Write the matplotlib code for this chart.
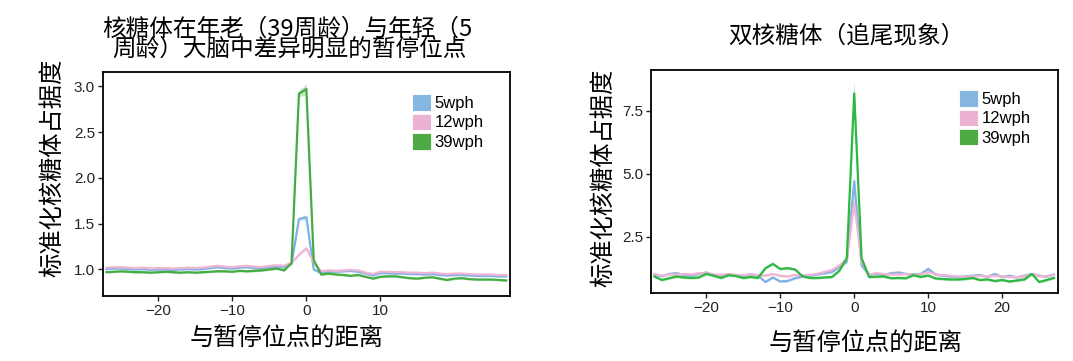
import numpy as np
import matplotlib
matplotlib.use("Agg")
import matplotlib.pyplot as plt
from matplotlib.patches import Patch

plt.rcParams['font.family'] = ['Liberation Sans', 'Noto Sans CJK SC']
cjk = ['Noto Sans CJK SC', 'DejaVu Sans']

# data to plot
pos = list(range(-27, 28))
series = ['5wph', '12wph', '39wph']

# left panel: pause sites differing between old (39 wph) and young (5 wph) brain
left_5 = [1.005, 1.01, 1.01, 1.005, 1.0, 1.005, 0.995, 1.0, 1.0, 0.995, 1.0, 1.005, 1.0, 1.005,
          1.015, 1.025, 1.015, 1.01, 1.02, 1.025, 1.015, 1.01, 1.025, 1.03, 1.025, 1.06, 1.55, 1.57,
          1.0, 0.96, 0.975, 0.975, 0.98, 0.985, 0.975, 0.955, 0.935, 0.96, 0.96, 0.955, 0.955, 0.95,
          0.95, 0.945, 0.95, 0.94, 0.935, 0.94, 0.94, 0.935, 0.93, 0.93, 0.93, 0.925, 0.925]
left_12 = [1.02, 1.025, 1.025, 1.02, 1.015, 1.02, 1.01, 1.015, 1.015, 1.01, 1.015, 1.02, 1.015, 1.02,
           1.03, 1.04, 1.03, 1.025, 1.035, 1.04, 1.03, 1.025, 1.04, 1.045, 1.04, 1.07, 1.16, 1.23,
           1.08, 0.98, 0.99, 0.985, 0.99, 0.995, 0.99, 0.965, 0.95, 0.975, 0.975, 0.97, 0.97, 0.965,
           0.965, 0.96, 0.965, 0.955, 0.95, 0.955, 0.955, 0.95, 0.945, 0.945, 0.945, 0.94, 0.94]
left_39 = [0.97, 0.975, 0.98, 0.975, 0.97, 0.97, 0.965, 0.97, 0.975, 0.97, 0.965, 0.97, 0.965, 0.97,
           0.975, 0.98, 0.98, 0.975, 0.985, 0.98, 0.985, 0.99, 1.0, 1.01, 0.99, 1.07, 2.92, 2.97,
           1.10, 0.945, 0.955, 0.945, 0.94, 0.93, 0.94, 0.92, 0.90, 0.92, 0.925, 0.925, 0.915, 0.905,
           0.90, 0.91, 0.915, 0.90, 0.885, 0.90, 0.905, 0.895, 0.89, 0.89, 0.89, 0.885, 0.88]

# right panel: disomes (collisions)
right_5 = [1.0, 0.93, 1.02, 1.05, 0.98, 0.95, 1.02, 1.08, 0.98, 0.94, 1.0, 0.96, 0.95, 1.0, 0.95,
           0.70, 0.88, 0.72, 0.74, 0.85, 0.92, 0.95, 1.0, 1.05, 1.1, 1.3, 1.5, 4.7, 1.35, 1.0, 1.02,
           0.98, 1.05, 1.08, 1.02, 1.0, 1.02, 1.22, 1.0, 0.95, 0.92, 0.9, 0.92, 0.95, 0.98, 0.9, 1.02,
           0.9, 0.95, 0.88, 0.95, 1.02, 0.95, 0.92, 1.0]
right_12 = [1.02, 0.95, 1.0, 1.0, 1.02, 1.0, 1.05, 1.05, 1.0, 0.98, 1.02, 0.98, 0.97, 1.0, 0.98,
            0.95, 1.02, 0.95, 0.92, 0.98, 0.96, 0.98, 1.02, 1.1, 1.18, 1.35, 1.6, 3.85, 1.5, 1.0,
            1.05, 1.02, 1.0, 1.0, 1.02, 0.98, 1.0, 1.1, 1.0, 0.97, 0.95, 0.92, 0.9, 0.92, 0.95, 0.92,
            0.95, 0.92, 0.9, 0.9, 0.92, 1.0, 0.95, 0.92, 0.98]
right_39 = [0.92, 0.78, 0.85, 0.92, 0.88, 0.86, 0.88, 1.02, 0.95, 0.86, 0.97, 0.94, 0.86, 0.90,
            0.86, 1.25, 1.42, 1.22, 1.25, 1.20, 0.93, 0.86, 0.86, 0.88, 0.90, 1.15, 1.65, 8.2, 1.65,
            0.90, 0.91, 0.92, 0.85, 0.86, 0.85, 0.97, 0.90, 0.96, 0.84, 0.82, 0.80, 0.80, 0.82, 0.86,
            0.78, 0.80, 0.74, 0.78, 0.72, 0.76, 0.80, 1.02, 0.70, 0.78, 0.86]

line_colors = ['#7fb1e3', '#f0b4d4', '#3fae45']
box_colors = ['#86b7e0', '#ebb2d4', '#4dab44']

fig = plt.figure(figsize=(10.73, 3.61), dpi=100)


def panel(rect, data, band, peak_band, ylim, yticks, ylabels, xticks, green):
    ax = fig.add_axes(rect)
    cols = line_colors[:2] + [green]
    p = np.array(pos)
    for vals, c in zip(data, cols):
        v = np.array(vals)
        w = np.full(len(v), band)
        w[p == 0] = peak_band * v[p == 0]
        w[p == -1] = peak_band * v[p == -1] * 0.6
        ax.fill_between(pos, v - w, v + w, color=c, alpha=0.3, lw=0)
        ax.plot(pos, v, color=c, lw=1.6)
    ax.set_xlim(-27.5, 27.5)
    ax.set_ylim(*ylim)
    ax.set_xticks(xticks)
    ax.set_xticklabels(['\u2212%d' % -t if t < 0 else str(t) for t in xticks])
    ax.set_yticks(yticks)
    ax.set_yticklabels(ylabels)
    ax.tick_params(labelsize=11, colors='#222222', length=3.5, width=1, pad=2)
    for s in ax.spines.values():
        s.set_linewidth(1.3)
    return ax


ax1 = panel([102.7 / 1073, 1 - 296 / 361, (510 - 102.7) / 1073, (296 - 71.7) / 361],
            [left_5, left_12, left_39], 0.012, 0.02, (0.71, 3.16),
            [1.0, 1.5, 2.0, 2.5, 3.0], ['1.0', '1.5', '2.0', '2.5', '3.0'],
            [-20, -10, 0, 10], '#45ac43')
ax2 = panel([650.7 / 1073, 1 - 293.3 / 361, (1057.7 - 650.7) / 1073, (293.3 - 70) / 361],
            [right_5, right_12, right_39], 0.05, 0.07, (0.25, 9.13),
            [2.5, 5.0, 7.5], ['2.5', '5.0', '7.5'],
            [-20, -10, 0, 10, 20], '#2db842')

handles = [Patch(facecolor=c, edgecolor='white', lw=0.6) for c in box_colors]
for ax, anchor in [(ax1, (0.76, 0.90)), (ax2, (0.7575, 0.91))]:
    ax.legend(handles, series, loc='upper left', bbox_to_anchor=anchor, frameon=False,
              fontsize=12, handlelength=1.15, handleheight=1.15, labelspacing=0.15,
              handletextpad=0.2, borderpad=0, borderaxespad=0)

# titles and axis labels
fig.text(287 / 1073, 1 - 29 / 361, '核糖体在年老（39周龄）与年轻（5', family=cjk,
         fontsize=17, ha='center', va='center')
fig.text(289 / 1073, 1 - 49 / 361, '周龄）大脑中差异明显的暂停位点', family=cjk,
         fontsize=17, ha='center', va='center')
fig.text(846 / 1073, 1 - 36 / 361, '双核糖体（追尾现象）', family=cjk,
         fontsize=17, ha='center', va='center')

fig.text(52 / 1073, 1 - 168 / 361, '标准化核糖体占据度', family=cjk, fontsize=17.5,
         rotation=90, ha='center', va='center')
fig.text(603 / 1073, 1 - 178 / 361, '标准化核糖体占据度', family=cjk, fontsize=17.5,
         rotation=90, ha='center', va='center')
fig.text(287 / 1073, 1 - 338 / 361, '与暂停位点的距离', family=cjk, fontsize=17.5,
         ha='center', va='center')
fig.text(866 / 1073, 1 - 343 / 361, '与暂停位点的距离', family=cjk, fontsize=17.5,
         ha='center', va='center')

plt.savefig('out.png', dpi=100)
